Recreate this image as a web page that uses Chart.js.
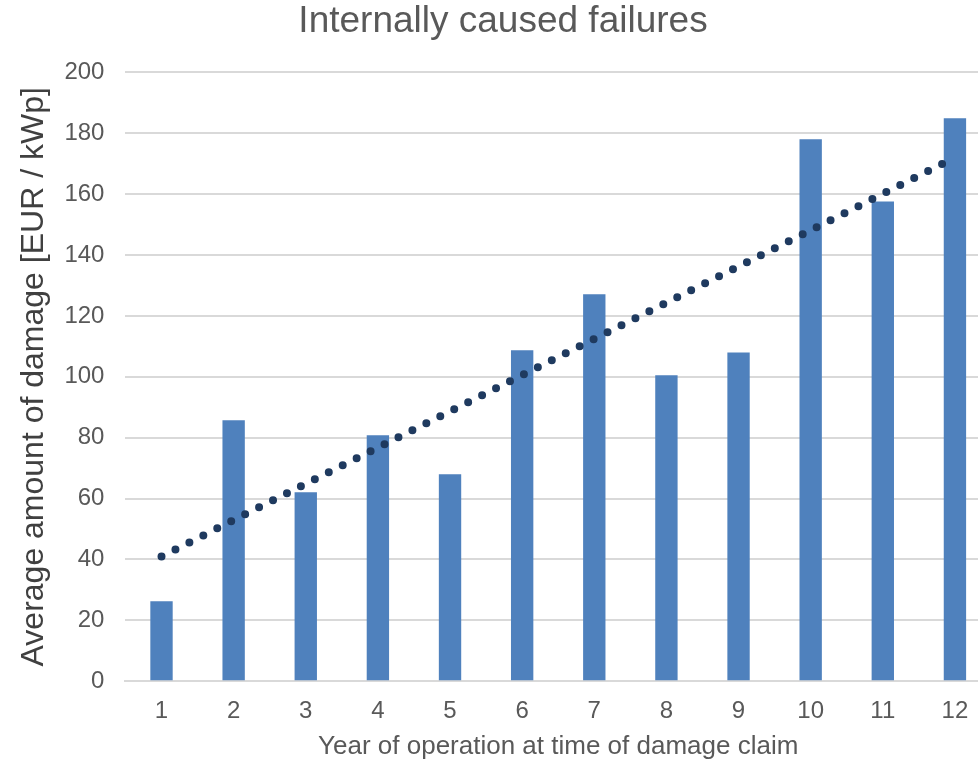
<!DOCTYPE html>
<html lang="en">
<head>
  <meta charset="UTF-8" />
  <title>Internally caused failures</title>
  <script src="https://cdn.jsdelivr.net/npm/chart.js"></script>
  <style>
    body { margin: 0; overflow: hidden; background: #fff; }
    .wrap { width: 1002px; height: 760px; }
  </style>
</head>
<body>
  <div class="wrap">
    <canvas id="grafico"></canvas>
  </div>

  <script>
    const years = ['1', '2', '3', '4', '5', '6', '7', '8', '9', '10', '11', '12'];
    const damage = [26.3, 85.7, 62.1, 80.8, 68, 108.7, 127.1, 100.5, 108, 178, 157.6, 184.9];
    // dotted trend line: read its two ends off the picture
    const trend = [41, null, null, null, null, null, null, null, null, null, null, 172];
    const yTicks = { min: 0, max: 200, step: 20 };

    const fuente = "'Liberation Sans', Arial, sans-serif";

    new Chart(document.getElementById('grafico'), {
      type: 'bar',
      data: {
        labels: years,
        datasets: [
          {
            type: 'line',
            label: 'Trend',
            data: trend,
            spanGaps: true,
            borderColor: '#1f3a5f',
            borderWidth: 8,
            borderDash: [0, 15.6],
            borderCapStyle: 'round',
            pointRadius: 0,
            fill: false,
            order: 0
          },
          {
            label: 'Average amount of damage',
            data: damage,
            backgroundColor: '#4f81bd',
            barPercentage: 0.31,
            categoryPercentage: 1,
            order: 1
          }
        ]
      },
      options: {
        responsive: true,
        maintainAspectRatio: false,
        animation: false,
        layout: { padding: { top: 0, right: 11, left: 15, bottom: 0 } },
        plugins: {
          legend: { display: false },
          tooltip: { enabled: false },
          title: {
            display: true,
            text: 'Internally caused failures',
            color: '#595959',
            font: { family: fuente, size: 37, weight: 'normal' },
            padding: { top: 0, bottom: 28 }
          }
        },
        scales: {
          x: {
            grid: { display: false },
            border: { color: '#d9d9d9', width: 2 },
            ticks: { color: '#595959', font: { family: fuente, size: 24 }, padding: 8 },
            title: {
              display: true,
              text: 'Year of operation at time of damage claim',
              color: '#595959',
              font: { family: fuente, size: 26, lineHeight: 1.0 },
              padding: { top: 0, bottom: 0 }
            }
          },
          y: {
            min: yTicks.min,
            max: yTicks.max,
            grid: { color: '#d9d9d9', lineWidth: 2, drawTicks: false },
            border: { display: false },
            ticks: {
              stepSize: yTicks.step,
              color: '#595959',
              font: { family: fuente, size: 24 },
              padding: 21
            },
            title: {
              display: true,
              text: 'Average amount of damage [EUR / kWp]',
              color: '#404040',
              font: { family: fuente, size: 32 },
              padding: { top: 0, bottom: -10 }
            }
          }
        }
      }
    });
  </script>
</body>
</html>
